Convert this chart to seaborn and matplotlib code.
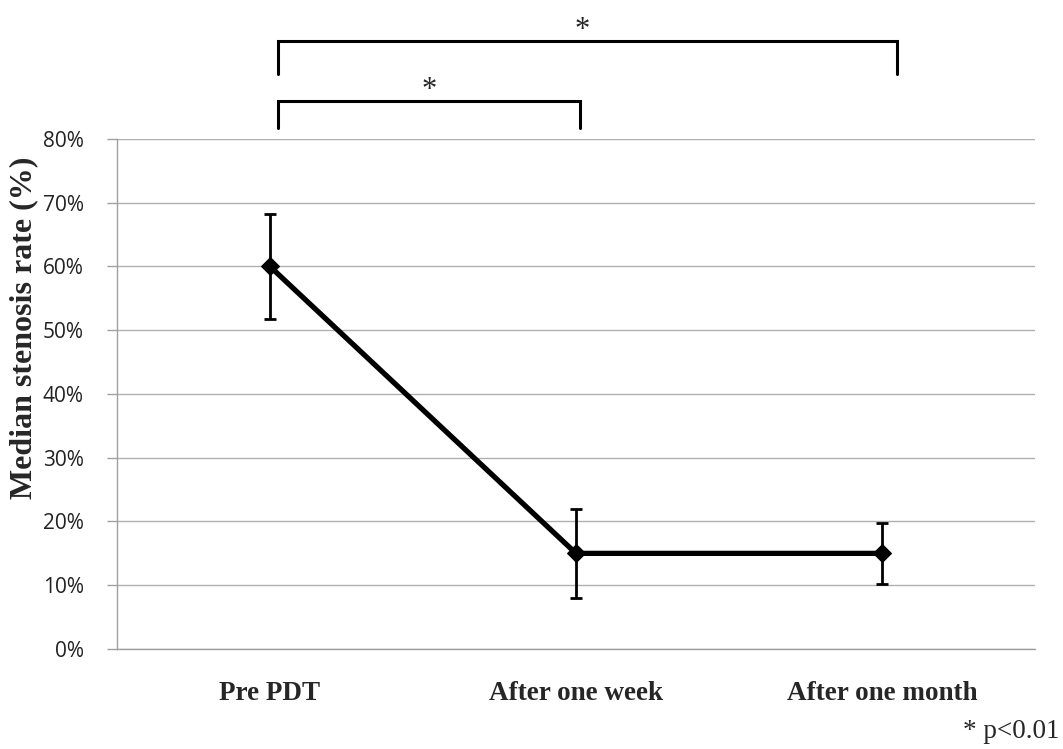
import numpy as np
import pandas as pd
from matplotlib import pyplot as plt
import seaborn as sns

stages = ['Pre PDT', 'After one week', 'After one month']
median_rate = [60.0, 15.0, 15.0]
err_upper = [68.2, 22.0, 19.8]
err_lower = [51.8, 8.0, 10.2]
y_ticks = [0, 10, 20, 30, 40, 50, 60, 70, 80]

df = pd.DataFrame({'stage': stages, 'rate': median_rate})

sns.set_style('white')
fig = plt.figure(figsize=(10.63, 7.49), dpi=100)
ax = fig.add_axes([0.110, 0.1335, 0.8637, 0.681])

x = np.arange(len(stages))
ax.errorbar(x, median_rate,
            yerr=[np.array(median_rate) - np.array(err_lower),
                  np.array(err_upper) - np.array(median_rate)],
            fmt='none', ecolor='black', elinewidth=2.0, capsize=4, capthick=2.0,
            zorder=3)
sns.lineplot(data=df, x='stage', y='rate', ax=ax, color='black', linewidth=3.8,
             marker='D', markersize=9, markeredgecolor='black', sort=False,
             zorder=4)

ax.set_xlim(-0.5, 2.5)
ax.set_ylim(0, 80)
ax.set_yticks(y_ticks)
ax.set_yticklabels(['{}%'.format(t) for t in y_ticks], fontsize=15,
                   family='Open Sans', color='#222222')
ax.set_xticks(x)
ax.set_xticklabels(stages, fontsize=19.5, family='Liberation Serif',
                   fontweight='bold')
ax.tick_params(axis='x', length=0, pad=23)
ax.tick_params(axis='y', length=7, width=1, color='#a0a0a0', direction='out',
               left=True, pad=17)
ax.yaxis.grid(True, color='#b0b0b0', linewidth=1)
ax.set_axisbelow(True)
for side in ['top', 'right']:
  ax.spines[side].set_visible(False)
for side in ['left', 'bottom']:
  ax.spines[side].set_color('#a0a0a0')
  ax.spines[side].set_linewidth(1)
ax.set_xlabel('')
ax.set_ylabel('Median stenosis rate (%)', fontsize=23, family='Liberation Serif',
              fontweight='bold')
ax.yaxis.set_label_coords(-0.086, 0.63)

# significance brackets
def _bracket(x0, x1, y_top, y_bot, star_x, star_y):
  ax.plot([x0, x0, x1, x1], [y_bot, y_top, y_top, y_bot], color='black',
          linewidth=2.2, clip_on=False, solid_joinstyle='miter')
  ax.text(star_x, star_y, '*', ha='center', va='center', fontsize=22,
          family='Liberation Serif')

_bracket(0.026, 1.013, 86.0, 81.7, 0.52, 87.6)
_bracket(0.026, 2.05, 95.4, 90.2, 1.02, 97.0)

fig.text(0.997, 0.0227, '* p<0.01', ha='right', va='center', fontsize=19.5,
         family='Liberation Serif')

fig.savefig('out.png', dpi=100)
